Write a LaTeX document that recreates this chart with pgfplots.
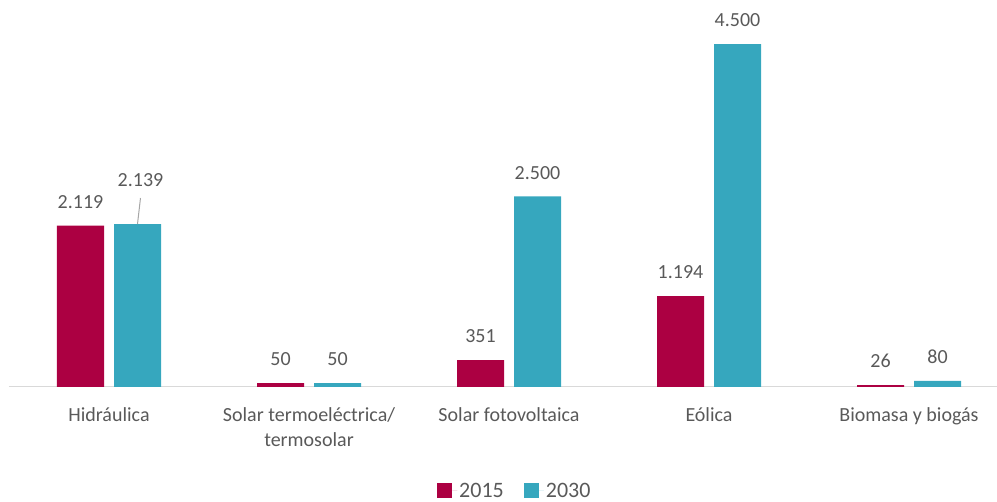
\documentclass[border=0pt]{standalone}
\usepackage{fontspec}
\setmainfont{Carlito}
\usepackage{pgfplots}
\pgfplotsset{compat=1.18}
\definecolor{crim}{HTML}{AC0042}
\definecolor{teal2}{HTML}{36A7BE}
\definecolor{txt}{HTML}{595959}
\begin{document}
\begin{tikzpicture}
\begin{axis}[
  at={(9pt,115pt)}, anchor=south west,
  scale only axis, width=988pt, height=381pt,
  xmin=-0.5, xmax=4.44, ymin=0, ymax=5000,
  axis y line=none, axis x line*=bottom,
  axis line style={draw=black!15, line width=1pt, -},
  xtick={0,1,2,3,4},
  xticklabels={Hidráulica,{Solar termoeléctrica/\\termosolar},Solar fotovoltaica,Eólica,Biomasa y biogás},
  major tick length=0pt,
  xticklabel style={font=\fontsize{20}{25}\selectfont, text=txt, align=center, inner sep=0pt, anchor=north, yshift=-20pt},
  ybar, bar width=47pt,
  clip=false,
  /pgf/number format/assume math mode=true,
  nodes near coords={\pgfmathprintnumber[1000 sep={.},assume math mode=true]{\pgfplotspointmeta}},
  nodes near coords style={font=\fontsize{20}{24}\selectfont, text=txt, inner sep=0pt, anchor=south, yshift=17pt},
  visualization depends on={\thisrow{dx} \as \dx},
  visualization depends on={\thisrow{dy} \as \dy},
  legend columns=2,
  legend style={at={(0.512,-0.272)}, anchor=center, draw=none, fill=none,
    font=\fontsize{22}{24}\selectfont, text=txt, inner sep=0pt,
    /tikz/every even column/.append style={column sep=18pt}},
  legend image code/.code={\fill[#1] (0pt,-7pt) rectangle (15pt,8pt); \path (15pt,0pt) -- (20pt,0pt);},
]
\addplot[fill=crim, draw=none, bar shift=-28.5pt,
  nodes near coords style={xshift=\dx pt, yshift=\dy pt}]
  table[x=x,y=y]{
x y dx dy
0 2119 0 0
1 50 0 0
2 351 0 0
3 1194 0 0
4 26 0 0
};
\addplot[fill=teal2, draw=none, bar shift=28.5pt,
  nodes near coords style={xshift=\dx pt, yshift=\dy pt}]
  table[x=x,y=y]{
x y dx dy
0 2139 3 20
1 50 0 0
2 2500 0 0
3 4500 0 0
4 80 0 0
};
\legend{2015,2030}
\draw[black!35, line width=1pt] (axis cs:0,2139) ++(28.5pt,0pt) -- ++(3pt,26pt);
\end{axis}
\pgfresetboundingbox
\useasboundingbox (0,0) rectangle (997pt,502pt);
\end{tikzpicture}
\end{document}
